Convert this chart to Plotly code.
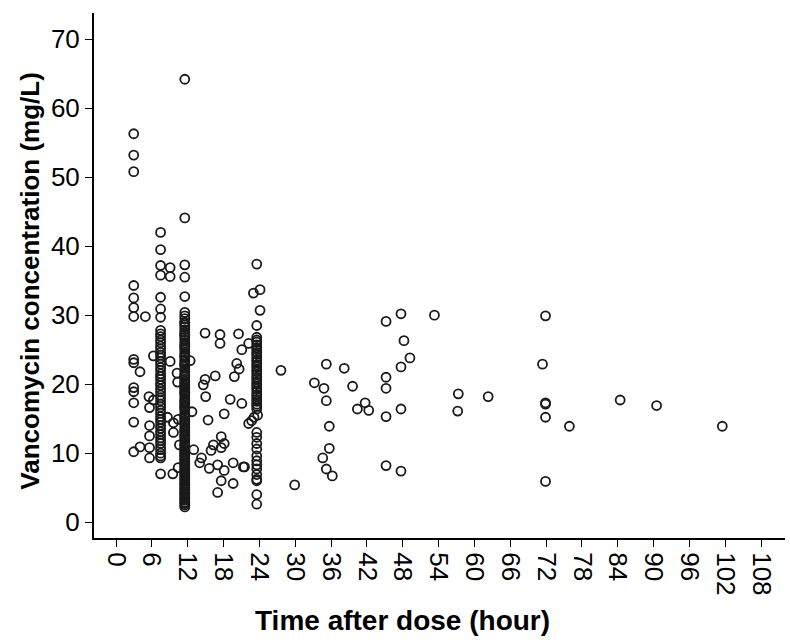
import plotly.graph_objects as go

# ---- data (time after dose in hours, concentration mg/L) ----
# dense column near 3 h
col3_x = 2.95
col3_y = [56.3, 53.2, 50.8, 34.3, 32.5, 31.1, 29.8, 23.6, 23.1, 19.5, 18.9, 17.3, 14.5, 10.2]

# dense column near 8 h
col8_x = 7.45
col8_y = [42.0, 39.5, 37.2, 35.8, 32.6, 30.9, 29.7,
          27.8, 27.3, 26.9, 26.4, 26.0, 25.5, 25.1, 24.6, 24.2, 23.8, 23.3, 22.9,
          22.4, 22.0, 21.5, 21.1, 20.7, 20.2, 19.8, 19.3, 18.9, 18.4, 18.0, 17.6,
          17.1, 16.7, 16.2, 15.8, 15.3, 14.9, 14.5, 14.0, 13.6, 13.1, 12.7, 12.2,
          11.8, 11.4, 10.9, 10.5, 10.0, 9.6, 9.3, 7.0]

# dense column near 12 h
col12_x = 11.5
col12_y = [64.2, 44.1, 37.3, 35.5, 32.7,
           30.4, 29.9, 29.5, 29.0, 28.9, 28.6, 28.3, 27.9, 27.5, 27.2, 27.1, 26.8,
           26.4, 26.0, 25.7, 25.5, 25.3, 25.0, 24.6, 24.2, 24.0, 23.9, 23.5, 23.2,
           22.9, 22.8, 22.5, 22.1, 21.8, 21.4, 21.2, 21.1, 20.7, 20.4, 20.2, 20.0,
           19.7, 19.5, 19.3, 19.0, 18.8, 18.6, 18.3, 17.9, 17.6, 17.4, 17.2, 16.9,
           16.7, 16.5, 16.2, 15.8, 15.5, 15.3, 15.1, 14.8, 14.6, 14.4, 14.1, 13.7,
           13.4, 13.2, 13.0, 12.7, 12.5, 12.3, 12.0, 11.6, 11.3, 11.1, 10.9, 10.6,
           10.4, 10.2, 9.9, 9.7, 9.5, 9.2, 9.0, 8.8, 8.5, 8.3, 8.1, 7.8, 7.6, 7.4,
           7.1, 6.9, 6.7, 6.4, 6.2, 6.0, 5.7, 5.5, 5.3, 5.0, 4.8, 4.6, 4.3, 4.1,
           3.9, 3.6, 3.4, 3.2, 2.9, 2.7, 2.5, 2.2]

# dense column near 24 h
col24_x = 23.55
col24_y = [37.4, 28.5,
           26.8, 26.4, 26.1, 25.7, 25.3, 25.0, 24.6, 24.3, 23.9, 23.5, 23.2, 22.8,
           22.5, 22.1, 21.8, 21.4, 21.0, 20.7, 20.3, 20.0, 19.6, 19.3, 18.9, 18.5,
           18.2, 17.8, 17.5, 17.1, 16.8, 16.4,
           13.0, 12.3, 11.4, 10.6, 9.6, 8.9, 8.3, 7.7, 6.9, 6.2, 6.0, 4.0, 2.6]

# scattered samples
other_x = [4.0, 4.0, 4.9, 5.5, 5.6, 5.6, 5.6, 5.6, 5.6, 6.25, 6.25,
           9.05, 9.05, 9.05, 8.6, 9.6, 9.6, 9.5,
           10.3, 10.2, 10.4, 10.6, 10.4,
           12.4, 12.7, 13.0,
           14.9, 17.4, 17.4, 20.5, 22.2, 21.05, 20.2, 20.6, 19.8, 14.9, 16.6, 14.6,
           15.0, 19.1, 21.05, 15.4, 18.1, 17.6, 18.1, 17.6, 16.3, 15.9, 14.3, 14.0,
           15.6, 17.0, 18.1, 19.6, 21.5, 17.6, 19.6, 17.0,
           22.2, 22.7, 23.1, 23.7, 23.0, 24.1, 24.1, 21.3,
           27.6, 29.9, 33.2, 34.8, 35.2, 38.2, 39.6, 35.2, 41.7, 40.4, 42.3, 35.7,
           35.7, 34.6, 35.2, 36.2, 45.2, 47.7, 53.3, 48.2, 49.2, 47.7, 45.2, 45.2,
           47.7, 45.2, 45.2, 47.7, 57.3, 57.2, 62.3, 71.9, 71.4, 71.9, 71.9, 71.9,
           75.9, 71.9, 84.4, 90.5, 101.5]
other_y = [21.8, 10.9, 29.8, 18.2, 16.6, 14.0, 12.5, 10.8, 9.3, 24.1, 17.7,
           36.9, 35.6, 23.3, 15.2, 13.0, 14.4, 7.0,
           20.3, 21.6, 14.9, 11.2, 7.9,
           23.4, 16.0, 10.5,
           27.4, 27.2, 25.9, 27.3, 25.9, 25.0, 23.0, 22.2, 21.1, 20.7, 21.2, 19.9,
           18.2, 17.8, 17.2, 14.8, 15.7, 12.4, 11.4, 10.8, 11.2, 10.4, 9.3, 8.6,
           7.8, 8.3, 7.5, 8.6, 8.0, 6.0, 5.6, 4.3,
           14.3, 14.7, 15.2, 15.5, 33.2, 33.7, 30.7, 8.0,
           22.0, 5.4, 20.2, 19.4, 22.9, 22.3, 19.7, 17.6, 17.3, 16.4, 16.2, 13.9,
           10.7, 9.3, 7.7, 6.7, 29.1, 30.2, 30.0, 26.3, 23.8, 22.5, 21.0, 19.4,
           16.4, 15.3, 8.2, 7.4, 18.6, 16.1, 18.2, 29.9, 22.9, 17.3, 17.1, 15.2,
           13.9, 5.9, 17.7, 16.9, 13.9]

x_ticks = list(range(0, 109, 6))
y_ticks = list(range(0, 71, 10))

xs = ([col3_x] * len(col3_y) + [col8_x] * len(col8_y) + [col12_x] * len(col12_y)
      + [col24_x] * len(col24_y) + other_x)
ys = col3_y + col8_y + col12_y + col24_y + other_y

FONT = "Liberation Sans, Arial, sans-serif"

fig = go.Figure()
fig.add_trace(go.Scatter(
    x=xs, y=ys, mode="markers",
    marker=dict(symbol="circle-open", size=9, color="#1a1a1a", line=dict(width=1.8, color="#1a1a1a")),
    showlegend=False, hoverinfo="x+y"))

axis_common = dict(showline=True, linecolor="black", linewidth=2, ticks="outside",
                   ticklen=7, tickwidth=1.3, tickcolor="black", showgrid=False, zeroline=False,
                   tickfont=dict(family=FONT, size=26, color="black"))

fig.update_layout(
    width=790, height=644,
    margin=dict(l=94, r=5, t=13, b=106),
    paper_bgcolor="white", plot_bgcolor="white",
    xaxis=dict(range=[-3.7, 112], tickmode="array", tickvals=x_ticks,
               ticktext=[str(v) for v in x_ticks], tickangle=90, **axis_common),
    yaxis=dict(range=[-2.3, 73.8], tickmode="array", tickvals=y_ticks,
               ticktext=[str(v) for v in y_ticks], **axis_common),
    annotations=[
        dict(text="<b>Time after dose (hour)</b>", xref="paper", yref="paper",
             x=0.447, y=-0.157, xanchor="center", yanchor="middle", showarrow=False,
             font=dict(family=FONT, size=28, color="black")),
        dict(text="<b>Vancomycin concentration (mg/L)</b>", xref="paper", yref="paper",
             x=-0.092, y=0.491, xanchor="center", yanchor="middle", showarrow=False,
             textangle=-90, font=dict(family=FONT, size=26, color="black")),
    ],
)

fig.write_html("out.html")
